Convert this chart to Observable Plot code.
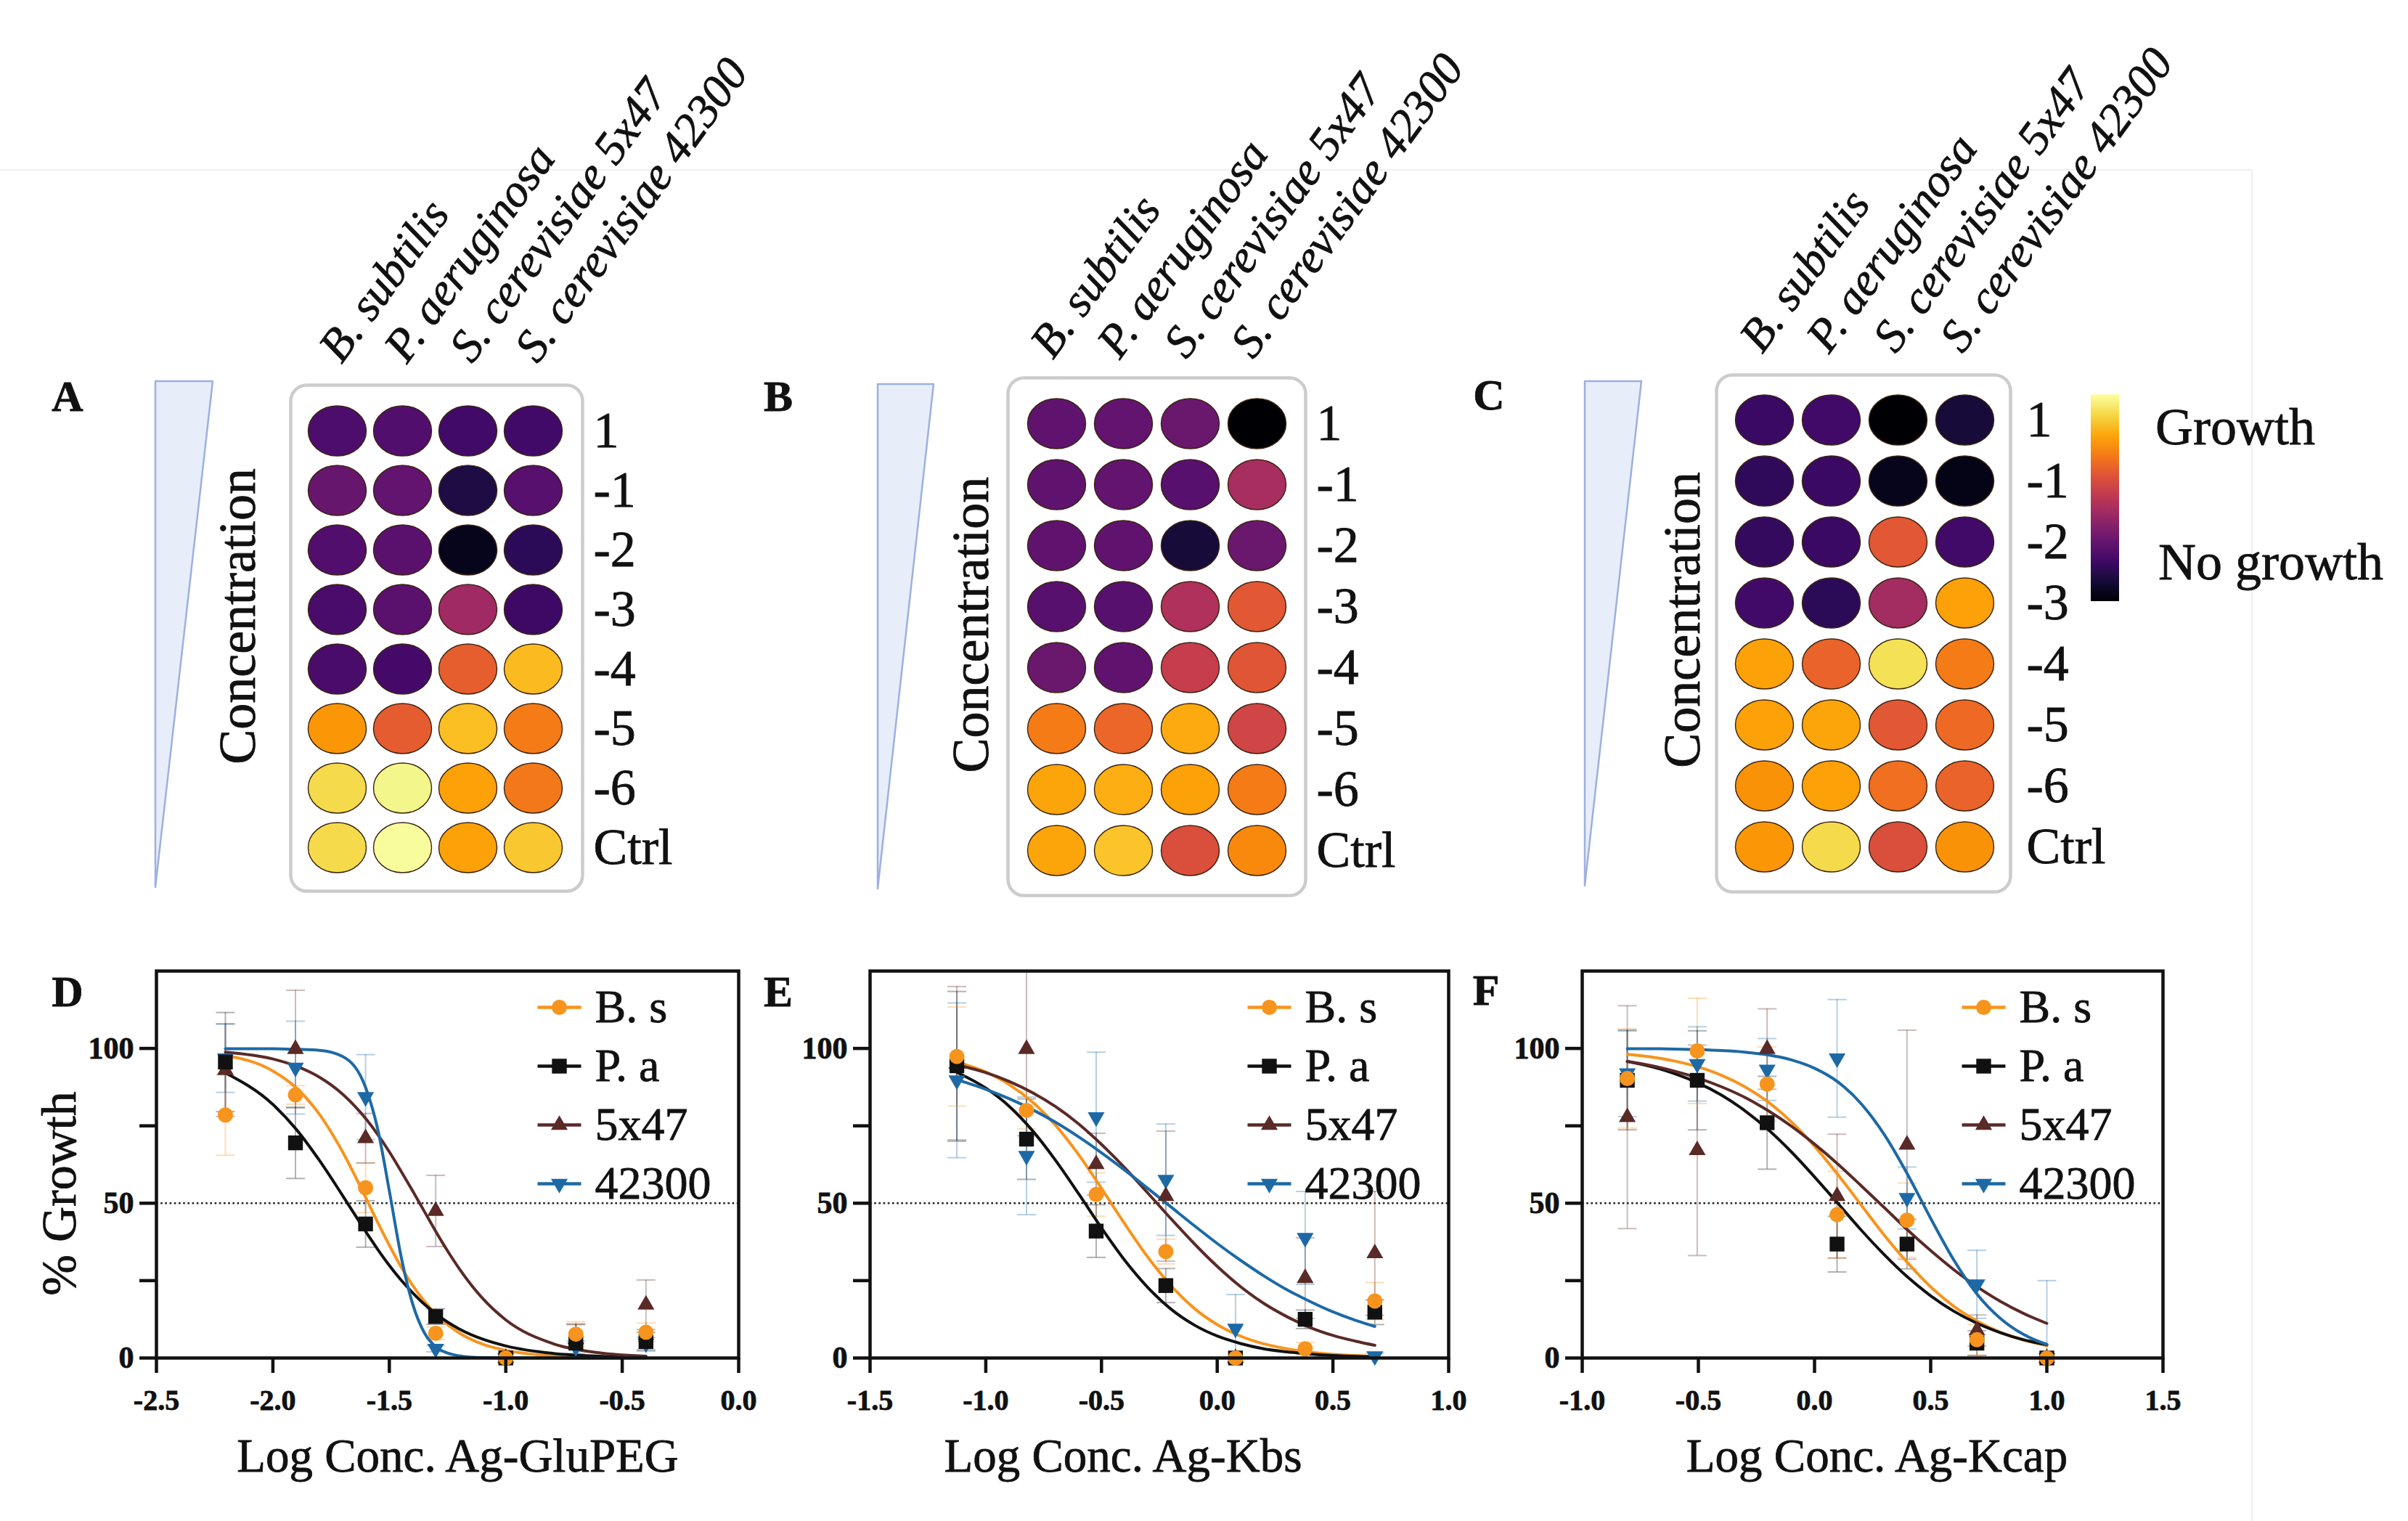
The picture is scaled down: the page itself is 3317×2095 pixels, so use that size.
<!DOCTYPE html>
<html><head><meta charset="utf-8">
<script src="https://cdn.jsdelivr.net/npm/d3@7"></script>
<script src="https://cdn.jsdelivr.net/npm/@observablehq/plot@0.6"></script>
<style>
body{margin:0;background:#fff;}
#fig{position:relative;width:3317px;height:2095px;overflow:hidden;background:#fff;font-family:"Liberation Serif",serif;color:#111;}
#fig > *{position:absolute;}
#fig svg, #fig svg text{font-family:"Liberation Serif","Times New Roman",serif !important;}
#fig svg text{stroke:#111;stroke-width:0.8px;}
.lbl{white-space:nowrap;line-height:1;-webkit-text-stroke:0.8px #111;}
</style></head><body><div id="fig"></div>
<script>
// ---------- heatmap data (relative growth 0 = none, 1 = full) ----------
const strains = ["B. subtilis", "P. aeruginosa", "S. cerevisiae 5x47", "S. cerevisiae 42300"];
const concLabels = ["1", "-1", "-2", "-3", "-4", "-5", "-6", "Ctrl"];
const growthA = [
  [0.23, 0.24, 0.20, 0.20],
  [0.29, 0.28, 0.12, 0.25],
  [0.24, 0.26, 0.05, 0.15],
  [0.22, 0.26, 0.43, 0.19],
  [0.22, 0.21, 0.64, 0.84],
  [0.77, 0.63, 0.85, 0.71],
  [0.91, 0.97, 0.79, 0.70],
  [0.91, 0.99, 0.79, 0.87]
];
const growthB = [
  [0.27, 0.28, 0.30, 0.00],
  [0.27, 0.28, 0.25, 0.45],
  [0.27, 0.27, 0.10, 0.30],
  [0.25, 0.25, 0.47, 0.62],
  [0.30, 0.27, 0.53, 0.61],
  [0.71, 0.66, 0.81, 0.56],
  [0.80, 0.82, 0.79, 0.71],
  [0.80, 0.86, 0.59, 0.74]
];
const growthC = [
  [0.18, 0.20, 0.00, 0.10],
  [0.16, 0.18, 0.05, 0.04],
  [0.17, 0.18, 0.62, 0.20],
  [0.20, 0.15, 0.44, 0.79],
  [0.79, 0.65, 0.92, 0.71],
  [0.79, 0.80, 0.62, 0.67],
  [0.76, 0.79, 0.68, 0.65],
  [0.77, 0.91, 0.59, 0.76]
];

// ---------- dose-response data ----------
const seriesNames = ["B. s", "P. a", "5x47", "42300"];
const seriesColors = ["#f7941d", "#111111", "#5a2a27", "#1d69a6"];
const yTicks = [0, 25, 50, 75, 100];
const yTickLabels = ["0", "", "50", "", "100"];
const xTicksD = [-2.5, -2.0, -1.5, -1.0, -0.5, 0.0];
const xTicksE = [-1.5, -1.0, -0.5, 0.0, 0.5, 1.0];
const xTicksF = [-1.0, -0.5, 0.0, 0.5, 1.0, 1.5];

// D: Ag-GluPEG
const logConcD = [-2.204, -1.903, -1.602, -1.301, -1.0, -0.699, -0.398];
const bsD = [78.5, 85, 55, 8, 0, 7.7, 8.3];          const bsErrD = [13, 3, 8, 2, 0, 4, 3];
const paD = [95.6, 69.5, 43.3, 13.4, 0, 4.8, 5.3];   const paErrD = [16, 11.5, 7.5, 2.5, 0, 6, 3];
const s5x47D = [93, 99.8, 71, 47.5, 0, 6, 17.2];     const s5x47ErrD = [15, 19, 8, 11.5, 0, 5, 8];
const s42300D = [96.8, 93.8, 84.3, 3, 0, 3.5, 4.7];  const s42300ErrD = [11, 15, 13.7, 1, 0, 2, 2];
const fitXD = [-2.204, -2.0, -1.9, -1.8, -1.7, -1.6, -1.55, -1.5, -1.45, -1.4, -1.35, -1.3, -1.25, -1.2, -1.1, -1.0, -0.8, -0.6, -0.398];
const bsFitD = [97.8, 92.7, 87.3, 78.7, 66.5, 51.6, 43.8, 36.4, 29.5, 23.5, 18.4, 14.1, 10.8, 8.1, 4.5, 2.5, 0.7, 0.2, 0.1];
const paFitD = [92.1, 81.9, 73.9, 63.8, 52.4, 40.7, 35.1, 29.9, 25.2, 21.1, 17.4, 14.3, 11.6, 9.4, 6.1, 3.9, 1.5, 0.6, 0.2];
const s5x47FitD = [98.8, 96.6, 94.3, 90.7, 85.2, 77.2, 72.2, 66.6, 60.4, 54, 47.4, 40.8, 34.6, 28.9, 19.3, 12.3, 4.7, 1.7, 0.6];
const s42300FitD = [99.9, 99.9, 99.7, 99.4, 97.4, 87, 74, 54, 33, 17.5, 8.2, 3.6, 1.6, 0.7, 0.1, 0, 0, 0, 0];

// E: Ag-Kbs
const logConcE = [-1.125, -0.824, -0.523, -0.222, 0.079, 0.380, 0.681];
const bsE = [97.4, 80, 52.8, 34.4, 0, 3, 18.4];        const bsErrE = [16, 6, 7, 4, 0, 2, 6];
const paE = [94.4, 70.7, 41, 23.4, 0, 12.5, 14.8];     const paErrE = [24, 13, 8.5, 5.5, 0, 3, 4];
const s5x47E = [95, 99.8, 62.6, 52.3, 0, 25.8, 33.8];  const s5x47ErrE = [25, 28, 10, 21, 0, 13, 20];
const s42300E = [89.7, 65.3, 77.8, 57.6, 9.5, 38.8, 0.6]; const s42300ErrE = [25, 19, 21, 18, 11, 15, 1];
const fitXE = [-1.125, -1.0, -0.9, -0.8, -0.7, -0.6, -0.5, -0.4, -0.3, -0.2, -0.1, 0, 0.1, 0.2, 0.3, 0.4, 0.5, 0.6, 0.681];
const bsFitE = [95.6, 92.4, 88.4, 82.8, 75.3, 65.8, 54.8, 43.4, 32.6, 23.4, 16.1, 10.8, 7.1, 4.6, 3.0, 1.9, 1.2, 0.8, 0.5];
const paFitE = [92.3, 87.2, 81.4, 73.6, 64, 53.2, 42, 31.6, 22.8, 15.8, 10.7, 7.1, 4.7, 3.0, 2.0, 1.3, 0.8, 0.5, 0.4];
const s5x47FitE = [94.7, 92.2, 89.4, 85.8, 81.3, 75.7, 69, 61.5, 53.3, 45, 37, 29.6, 23.1, 17.7, 13.4, 9.9, 7.3, 5.4, 4.1];
const s42300FitE = [89.9, 86.8, 83.8, 80.3, 76.2, 71.5, 66.3, 60.7, 54.8, 48.8, 42.8, 37, 31.6, 26.6, 22.1, 18.3, 14.9, 12.1, 10.2];

// F: Ag-Kcap
const logConcF = [-0.806, -0.505, -0.204, 0.097, 0.398, 0.699, 1.0];
const bsF = [90.3, 99.2, 88.5, 46.3, 44.5, 5.9, 0];      const bsErrF = [16, 17, 12, 14, 12, 5, 0];
const paF = [89.7, 89.7, 76, 36.8, 36.8, 4.8, 0];        const paErrF = [16, 16, 15, 9, 8, 4, 0];
const s5x47F = [77.8, 67.1, 99.8, 52.3, 68.9, 8.9, 0];   const s5x47ErrF = [36, 34, 13, 20, 37, 5, 0];
const s42300F = [92, 95, 93.2, 96.8, 51.7, 23.8, 0];     const s42300ErrF = [14, 12, 10, 19, 10, 11, 25];
const fitXF = [-0.806, -0.7, -0.6, -0.5, -0.4, -0.3, -0.2, -0.1, 0, 0.1, 0.2, 0.3, 0.4, 0.5, 0.6, 0.7, 0.8, 0.9, 1.0];
const bsFitF = [98.1, 97.2, 95.9, 94, 91.3, 87.6, 82.7, 76.3, 68.4, 59.3, 49.5, 39.7, 30.8, 23, 16.7, 11.9, 8.3, 5.8, 4.0];
const paFitF = [95.8, 94.1, 91.8, 88.8, 84.9, 79.9, 73.8, 66.6, 58.5, 50, 41.4, 33.4, 26.2, 20.1, 15.1, 11.2, 8.2, 5.9, 4.3];
const s5x47FitF = [95.8, 94.4, 92.6, 90.4, 87.6, 84.2, 79.9, 74.9, 69.1, 62.7, 55.7, 48.6, 41.4, 34.7, 28.5, 23, 18.3, 14.4, 11.2];
const s42300FitF = [99.9, 99.9, 99.8, 99.6, 99.3, 98.8, 97.9, 96.3, 93.6, 89.2, 82.2, 72.2, 59.4, 45.1, 31.6, 20.6, 12.8, 7.6, 4.4];

// ---------- helpers ----------
const fig = document.getElementById("fig");
const FONT = "'Liberation Serif', 'Times New Roman', serif";
const svgStyle = {background: "transparent", overflow: "visible", maxWidth: "none", fontFamily: FONT, color: "#111"};
function place(node, left, top) { node.style.position = "absolute"; node.style.left = left + "px"; node.style.top = top + "px"; fig.appendChild(node); return node; }
function putText(str, cx, baseline, size, extra = {}) {
  const d = document.createElement("div");
  d.className = "lbl"; d.textContent = str;
  d.style.fontSize = size + "px"; d.style.fontFamily = FONT;
  const center = extra.center !== false; delete extra.center;
  Object.assign(d.style, extra);
  place(d, cx, baseline - 0.8375 * size);
  if (center) d.style.transform = "translateX(-50%)";
  return d;
}
const ellipseSym = {draw(ctx, size) {
  const r = Math.sqrt(size / Math.PI), rx = r * 1.16, ry = r, k = 0.5523;
  ctx.moveTo(rx, 0);
  ctx.bezierCurveTo(rx, ry * k, rx * k, ry, 0, ry);
  ctx.bezierCurveTo(-rx * k, ry, -rx, ry * k, -rx, 0);
  ctx.bezierCurveTo(-rx, -ry * k, -rx * k, -ry, 0, -ry);
  ctx.bezierCurveTo(rx * k, -ry, rx, -ry * k, rx, 0);
  ctx.closePath();
}};
const capSym = {draw(ctx, size) { const r = Math.sqrt(size / Math.PI); ctx.moveTo(-r, 0); ctx.lineTo(r, 0); }};
const triDown = {draw(ctx, size) {
  const y = -Math.sqrt(size / (3 * Math.sqrt(3)));
  ctx.moveTo(0, -2 * y); ctx.lineTo(Math.sqrt(3) * y, y); ctx.lineTo(-Math.sqrt(3) * y, y); ctx.closePath();
}};
const symbols = ["circle", "square", "triangle", triDown];
const radii = [10.5, 11.5, 8.6, 8.6];

// ---------- wedge (concentration triangle) ----------
const wedgeShape = [{y: 1, x1: 0, x2: 1}, {y: 0, x1: 0, x2: 0}];
function wedge(left, right, top, bottom) {
  const svg = Plot.plot({
    width: right - left + 6, height: bottom - top + 6, margin: 3,
    x: {domain: [0, 1], axis: null}, y: {domain: [0, 1], axis: null},
    style: svgStyle,
    marks: [Plot.areaX(wedgeShape, {y: "y", x1: "x1", x2: "x2", fill: "#e7eefa", stroke: "#9db0df", strokeWidth: 2.5})]
  });
  place(svg, left - 3, top - 3);
}

// ---------- heatmap panel ----------
function heatPanel(grid, c) {
  const innerL = c.colX0 - c.colStep / 2, innerR = innerL + 4 * c.colStep;
  const innerT = c.rowY0 - c.rowStep / 2, innerB = innerT + 8 * c.rowStep;
  const data = grid.flatMap((row, i) => row.map((v, j) => ({strain: strains[j], conc: concLabels[i], v})));
  const svg = Plot.plot({
    width: c.svgR - c.svgL, height: c.svgB - c.svgT,
    marginLeft: innerL - c.svgL, marginRight: c.svgR - innerR,
    marginTop: innerT - c.svgT, marginBottom: c.svgB - innerB,
    x: {type: "point", domain: strains, padding: 0.5, axis: null},
    y: {type: "point", domain: concLabels, padding: 0.5, axis: null},
    color: {type: "linear", scheme: "inferno", domain: [0, 1]},
    style: svgStyle,
    marks: [
      Plot.frame({stroke: "#cccccc", strokeWidth: 4.5, rx: 22,
        insetLeft: -(innerL - c.frame[0]), insetRight: -(c.frame[1] - innerR),
        insetTop: -(innerT - c.frame[2]), insetBottom: -(c.frame[3] - innerB)}),
      Plot.dot(data, {x: "strain", y: "conc", fill: "v", r: 34.5, symbol: ellipseSym, stroke: "#3a2412", strokeWidth: 1.4}),
      Plot.text(strains, {x: d => d, frameAnchor: "top", dx: c.labDx, dy: c.labDy, rotate: -54, textAnchor: "start", lineAnchor: "bottom", fontStyle: "italic", fontSize: 64, fontFamily: FONT}),
      Plot.text(concLabels, {y: d => d, frameAnchor: "right", dx: c.rowDx, textAnchor: "start", fontSize: 70, fontFamily: FONT}),
      Plot.text(["Concentration"], {frameAnchor: "left", dx: c.concDx, dy: c.concDy, rotate: -90, textAnchor: "middle", fontSize: 72, fontFamily: FONT})
    ]
  });
  place(svg, c.svgL, c.svgT);
}

// ---------- dose-response panel ----------
function dosePlot(c) {
  const innerT = 1337, innerB = 1870, svgT = 1300, svgH = 795;
  const pts = [], curves = [];
  seriesNames.forEach((s, k) => {
    c.px.forEach((x, i) => pts.push({s, k, x, y: c.vals[k][i], e: c.errs[k][i]}));
    c.fx.forEach((x, i) => curves.push({s, x, y: c.fits[k][i]}));
  });
  const withErr = pts.filter(d => d.e > 0);
  const marks = [
    Plot.ruleY([50], {stroke: "#222", strokeWidth: 2.6, strokeDasharray: "2.6,3.6"}),
    Plot.ruleX(withErr, {x: "x", y1: d => d.y - d.e, y2: d => d.y + d.e, stroke: "s", strokeOpacity: 0.32, strokeWidth: 2, clip: true}),
    Plot.dot(withErr, {x: "x", y: d => d.y + d.e, symbol: capSym, r: 13, stroke: "s", strokeOpacity: 0.32, strokeWidth: 2, clip: true}),
    Plot.dot(withErr, {x: "x", y: d => d.y - d.e, symbol: capSym, r: 13, stroke: "s", strokeOpacity: 0.32, strokeWidth: 2, clip: true}),
    Plot.line(curves, {x: "x", y: "y", z: "s", stroke: "s", strokeWidth: 4, curve: "monotone-x"}),
    ...[3, 2, 1, 0].map(k => Plot.dot(pts.filter(d => d.k === k), {x: "x", y: "y", symbol: symbols[k], r: radii[k], fill: seriesColors[k]})),
    Plot.frame({strokeWidth: 4.5}),
    Plot.axisX({ticks: c.xTicks, tickFormat: d => d.toFixed(1), tickSize: 21, tickPadding: 22, fontSize: 40, fontWeight: "bold", fontFamily: FONT, strokeWidth: 4.5, label: null}),
    Plot.axisY({ticks: yTicks, tickFormat: d => yTickLabels[yTicks.indexOf(d)], tickSize: 23, tickPadding: 8, fontSize: 42, fontWeight: "bold", fontFamily: FONT, strokeWidth: 4.5, label: null}),
    Plot.text([c.title], {frameAnchor: "bottom", dx: c.titleDx, dy: 156, textAnchor: "middle", fontSize: 65, fontFamily: FONT})
  ];
  if (c.yTitle) marks.push(Plot.text([c.yTitle], {frameAnchor: "left", dx: -133, dy: 40, rotate: -90, textAnchor: "middle", fontSize: 68, fontFamily: FONT}));
  const svg = Plot.plot({
    width: c.svgW, height: svgH,
    marginLeft: c.innerL - c.svgL, marginRight: c.svgL + c.svgW - c.innerR,
    marginTop: innerT - svgT, marginBottom: svgT + svgH - innerB,
    x: {domain: c.xDomain}, y: {domain: [0, 125]},
    color: {domain: seriesNames, range: seriesColors},
    style: svgStyle,
    marks
  });
  place(svg, c.svgL, svgT);
  // legend (built from the series arrays)
  const leg = Plot.plot({
    width: 330, height: 4 * 81 + 10, marginLeft: 10, marginRight: 260, marginTop: 5, marginBottom: 5,
    x: {domain: [0, 1], axis: null},
    y: {type: "point", domain: seriesNames, padding: 0.5, axis: null},
    color: {domain: seriesNames, range: seriesColors},
    style: svgStyle,
    marks: [
      Plot.link(seriesNames, {x1: 0, x2: 1, y1: d => d, y2: d => d, stroke: d => d, strokeWidth: 4.5}),
      ...seriesNames.map((s, k) => Plot.dot([s], {x: 0.5, y: d => d, symbol: symbols[k], r: radii[k], fill: seriesColors[k]})),
      Plot.text(seriesNames, {x: 1, y: d => d, dx: 19, textAnchor: "start", fontSize: 64, fontFamily: FONT})
    ]
  });
  place(leg, c.innerR - 287, innerT + 49 - 45.5);
}

// ---------- faint border of the original figure ----------
const border = document.createElement("div");
Object.assign(border.style, {width: "3103px", height: "1900px", borderTop: "2px solid #efefef", borderRight: "2px solid #efefef"});
place(border, -2, 233);

// ---------- top row ----------
wedge(214, 293, 525, 1222);
wedge(1209, 1286, 529, 1224);
wedge(2183, 2261, 525, 1220);

heatPanel(growthA, {colX0: 464, colStep: 90.3, rowY0: 592, rowStep: 82.4, frame: [400, 802, 530, 1227],
  svgL: 250, svgT: 20, svgR: 1060, svgB: 1260, concDx: -91, concDy: -32, labDx: 6, labDy: -49, rowDx: 37});
heatPanel(growthB, {colX0: 1455, colStep: 92.3, rowY0: 581, rowStep: 84.6, frame: [1388, 1798, 520, 1233],
  svgL: 1250, svgT: 20, svgR: 2050, svgB: 1260, concDx: -71, concDy: -17, labDx: -5, labDy: -43, rowDx: 35});
heatPanel(growthC, {colX0: 2430, colStep: 92.3, rowY0: 578, rowStep: 84.1, frame: [2364, 2769, 516, 1228],
  svgL: 2250, svgT: 20, svgR: 3000, svgB: 1260, concDx: -66, concDy: -19, labDx: -3, labDy: -48, rowDx: 38});

putText("A", 93, 566, 60, {fontWeight: "bold"});
putText("B", 1072, 566, 60, {fontWeight: "bold"});
putText("C", 2051, 564, 60, {fontWeight: "bold"});

// colour bar legend
const bar = document.createElement("div");
const stops = d3.range(0, 1.0001, 0.1).map(t => d3.interpolateInferno(t) + " " + (t * 100).toFixed(0) + "%").join(",");
Object.assign(bar.style, {width: "39px", height: "285px", background: `linear-gradient(to top, ${stops})`});
place(bar, 2880, 543);
putText("Growth", 2969, 612, 72, {center: false});
putText("No growth", 2973, 798, 72, {center: false});

// ---------- bottom row ----------
dosePlot({svgL: 0, svgW: 1040, innerL: 215, innerR: 1017, xDomain: [-2.5, 0], xTicks: xTicksD,
  px: logConcD, vals: [bsD, paD, s5x47D, s42300D], errs: [bsErrD, paErrD, s5x47ErrD, s42300ErrD],
  fx: fitXD, fits: [bsFitD, paFitD, s5x47FitD, s42300FitD],
  title: "Log Conc. Ag-GluPEG", titleDx: 14, yTitle: "% Growth"});
dosePlot({svgL: 1040, svgW: 1000, innerL: 1198, innerR: 1995, xDomain: [-1.5, 1.0], xTicks: xTicksE,
  px: logConcE, vals: [bsE, paE, s5x47E, s42300E], errs: [bsErrE, paErrE, s5x47ErrE, s42300ErrE],
  fx: fitXE, fits: [bsFitE, paFitE, s5x47FitE, s42300FitE],
  title: "Log Conc. Ag-Kbs", titleDx: -50});
dosePlot({svgL: 2040, svgW: 1100, innerL: 2179, innerR: 2979, xDomain: [-1.0, 1.5], xTicks: xTicksF,
  px: logConcF, vals: [bsF, paF, s5x47F, s42300F], errs: [bsErrF, paErrF, s5x47ErrF, s42300ErrF],
  fx: fitXF, fits: [bsFitF, paFitF, s5x47FitF, s42300FitF],
  title: "Log Conc. Ag-Kcap", titleDx: 6});

putText("D", 93, 1386, 60, {fontWeight: "bold"});
putText("E", 1072, 1386, 60, {fontWeight: "bold"});
putText("F", 2047, 1384, 60, {fontWeight: "bold"});
</script></body></html>
